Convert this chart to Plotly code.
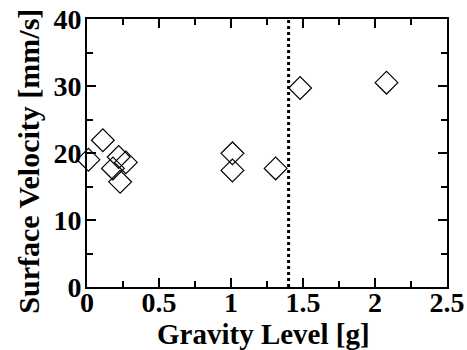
import plotly.graph_objects as go

gravity = [0.01, 0.11, 0.22, 0.18, 0.27, 0.23, 1.01, 1.01, 1.31, 1.48, 2.08]
velocity = [19.0, 21.9, 19.4, 17.7, 18.6, 15.7, 19.95, 17.4, 17.7, 29.7, 30.5]
threshold_g = 1.4
x_title = "Gravity Level [g]"
y_title = "Surface Velocity [mm/s]"

FONT = "Liberation Serif"

fig = go.Figure()
fig.add_trace(go.Scatter(
    x=gravity, y=velocity, mode="markers",
    marker=dict(symbol="diamond-open", size=17.5, color="black", line=dict(width=1.2, color="black")),
    showlegend=False, cliponaxis=False,
))
fig.add_trace(go.Scatter(
    x=[threshold_g, threshold_g], y=[0, 40], mode="lines",
    line=dict(color="black", width=3, dash="dot"), showlegend=False,
))

axis_common = dict(
    showline=True, linecolor="black", linewidth=2, mirror="allticks",
    ticks="inside", ticklen=9, tickwidth=1.5, tickcolor="black",
    showgrid=False, zeroline=False, automargin=False,
    tickfont=dict(family=FONT, size=28, color="black", weight="bold"),
)

fig.update_xaxes(
    range=[0, 2.5], tickvals=[0, 0.5, 1, 1.5, 2, 2.5], ticktext=["0", "0.5", "1", "1.5", "2", "2.5"],
    minor=dict(dtick=0.25, ticks="inside", ticklen=6, tickwidth=1.5, tickcolor="black"),
    ticklabelstandoff=-11,
    **axis_common,
)
fig.update_yaxes(
    range=[0, 40], tickvals=[0, 10, 20, 30, 40],
    minor=dict(dtick=5, ticks="inside", ticklen=6, tickwidth=1.5, tickcolor="black"),
    ticklabelstandoff=-2,
    **axis_common,
)

fig.add_annotation(
    text=x_title, xref="paper", yref="paper", x=0.49, y=-0.175,
    xanchor="center", yanchor="middle", showarrow=False,
    font=dict(family=FONT, size=29, color="black", weight="bold"),
)
fig.add_annotation(
    text=y_title, xref="paper", yref="paper", x=-0.165, y=0.47, textangle=-90,
    xanchor="center", yanchor="middle", showarrow=False,
    font=dict(family=FONT, size=30, color="black", weight="bold"),
)

fig.update_layout(
    width=467, height=350,
    margin=dict(l=87, r=20, t=19, b=63),
    plot_bgcolor="white", paper_bgcolor="white",
)

fig.write_html("out.html")
